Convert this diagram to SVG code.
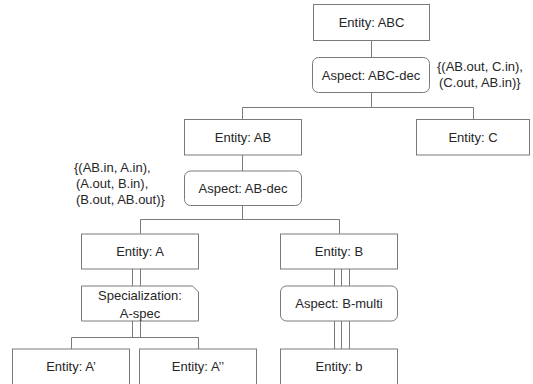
<svg xmlns="http://www.w3.org/2000/svg" width="533" height="384" viewBox="0 0 533 384">
<style>
.box{fill:#fff;stroke:#7a7a7a;stroke-width:1}
.ln{fill:none;stroke:#7a7a7a;stroke-width:1}
text{font-family:"Liberation Sans",Arial,sans-serif;font-size:13px;fill:#262626;text-anchor:middle}
.ann{text-anchor:start}
</style>
<rect width="533" height="384" fill="#fff"/>
<g id="connectors">
<path class="ln" d="M371.5 40V57M371.5 92V107.5H242.5V120M371.5 107.5H473.5V120"/>
<path class="ln" d="M242.5 155V171M242.5 205.5V219.5H140.5V234M242.5 219.5H339.5V234"/>
<path class="ln" d="M132.5 269V286M140.5 269V286M132.5 321V337.5M140.5 321V337.5M71.5 349V337.5H198.5V349"/>
<path class="ln" d="M334.5 269V286M341.5 269V286M349.5 269V286M334.5 321V349M341.5 321V349M349.5 321V349"/>
</g>
<g id="n-abc"><rect class="box" x="313.5" y="4.5" width="116" height="36"/><text x="371.5" y="27">Entity: ABC</text></g>
<g id="n-abc-dec"><rect class="box" x="312.5" y="57.5" width="117" height="35" rx="6"/><text x="371" y="79.5">Aspect: ABC-dec</text></g>
<g id="ann-abc"><text class="ann" x="437" y="71">{(AB.out, C.in),</text><text class="ann" x="439" y="87">(C.out, AB.in)}</text></g>
<g id="n-ab"><rect class="box" x="184.5" y="119.5" width="117" height="35.5"/><text x="243" y="142">Entity: AB</text></g>
<g id="n-c"><rect class="box" x="416.5" y="119.5" width="113" height="35.5"/><text x="473" y="142">Entity: C</text></g>
<g id="n-ab-dec"><rect class="box" x="184.5" y="171" width="117" height="34.5" rx="6"/><text x="243" y="193">Aspect: AB-dec</text></g>
<g id="ann-ab"><text class="ann" x="74" y="172">{(AB.in, A.in),</text><text class="ann" x="76" y="188">(A.out, B.in),</text><text class="ann" x="76" y="204">(B.out, AB.out)}</text></g>
<g id="n-a"><rect class="box" x="81.5" y="234" width="117" height="35"/><text x="140" y="256">Entity: A</text></g>
<g id="n-b"><rect class="box" x="280.5" y="234" width="117" height="35"/><text x="339" y="256">Entity: B</text></g>
<g id="n-a-spec"><path class="box" d="M81.5 286H192.5L198.5 292V321H81.5Z"/><text x="140" y="300">Specialization:</text><text x="140" y="318">A-spec</text></g>
<g id="n-b-multi"><rect class="box" x="280.5" y="286" width="117" height="35" rx="6"/><text x="339" y="308">Aspect: B-multi</text></g>
<g id="n-a1"><rect class="box" x="12.5" y="349" width="117" height="40"/><text x="71" y="371">Entity: A’</text></g>
<g id="n-a2"><rect class="box" x="139.5" y="349" width="117" height="40"/><text x="198" y="371">Entity: A’’</text></g>
<g id="n-b-low"><rect class="box" x="280.5" y="349" width="117" height="40"/><text x="339" y="371">Entity: b</text></g>
</svg>
